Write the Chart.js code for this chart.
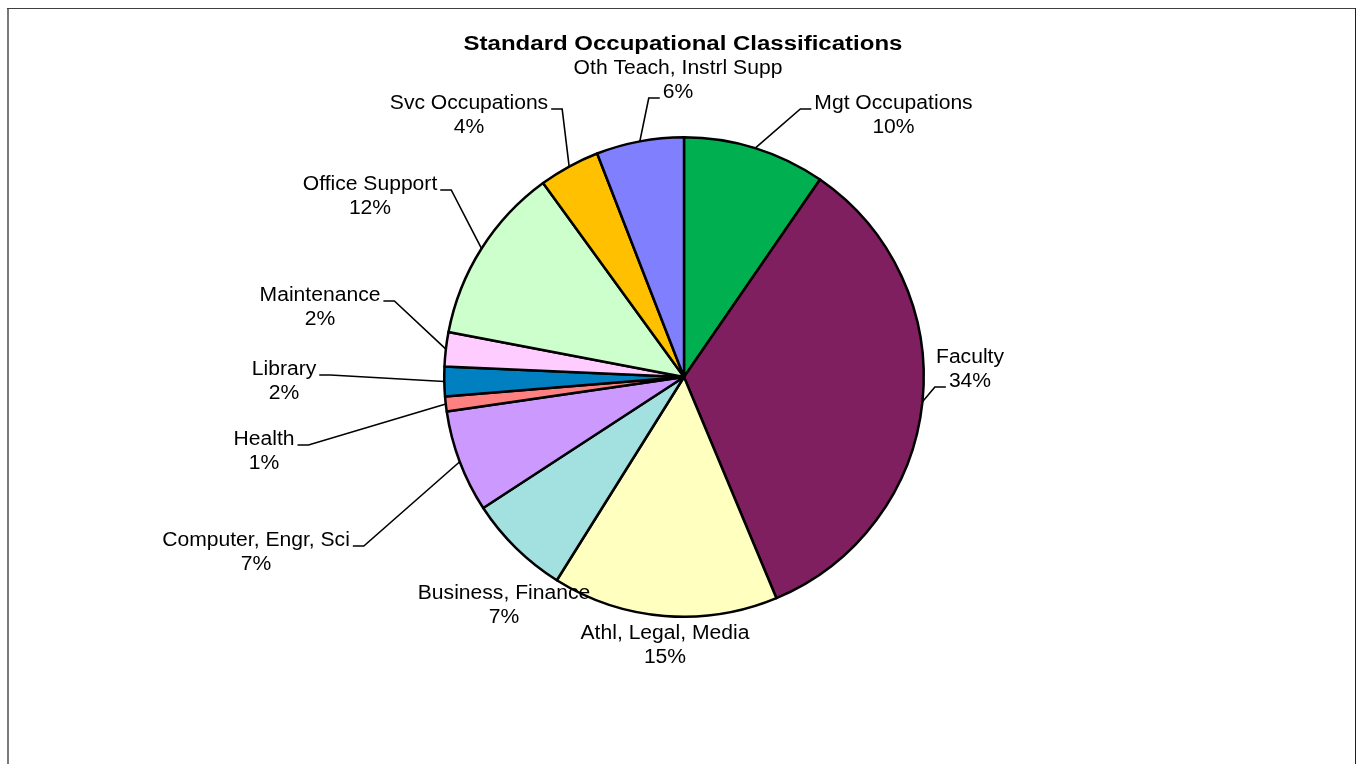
<!DOCTYPE html>
<html><head><meta charset="utf-8">
<script src="https://cdn.jsdelivr.net/npm/chart.js@4.4.1/dist/chart.umd.min.js"></script>
<style>html,body{margin:0;padding:0;background:#fff;overflow:hidden}canvas{display:block}</style>
</head><body>
<canvas id="c" width="1361" height="764"></canvas>
<script>
const categories = ['Mgt Occupations','Faculty','Athl, Legal, Media','Business, Finance','Computer, Engr, Sci','Health','Library','Maintenance','Office Support','Svc Occupations','Oth Teach, Instrl Supp'];
const shares = [9.6, 34.1, 15.2, 6.9, 6.9, 1.0, 2.0, 2.3, 12.0, 4.1, 5.9];
const sliceColors = ['#00B050','#7F1F5F','#FFFFC0','#A3E0E0','#CC99FF','#FF8080','#0080C0','#FFCCFF','#CCFFCC','#FFC000','#8080FF'];
const chartTitle = 'Standard Occupational Classifications';

// Label block centre offset from pie centre (in radii) and leader attachment (line index, side)
const labelPlacement = [
  {dx: 209.5/240, dy:-263/240, line:0, side:'L'},
  {dx: 286/240, dy:  -9/240, line:1, side:'L'},
  {dx: -19/240, dy: 267/240, line:null},
  {dx:-180/240, dy: 227/240, line:null},
  {dx:-428/240, dy: 174/240, line:0, side:'R'},
  {dx:-420/240, dy:  73/240, line:0, side:'R'},
  {dx:-400/240, dy:   3/240, line:0, side:'R'},
  {dx:-364/240, dy: -71/240, line:0, side:'R'},
  {dx:-314/240, dy:-182/240, line:0, side:'R'},
  {dx:-215/240, dy:-263/240, line:0, side:'R'},
  {dx:  -6/240, dy:-298/240, line:1, side:'L'}
];

const FONT = '"Liberation Sans", Arial, sans-serif';
const SX = 1.055;

function scaledText(ctx, txt, x, y, sx) {
  ctx.save();
  ctx.translate(x, y);
  ctx.scale(sx, 1);
  ctx.fillText(txt, 0, 0);
  ctx.restore();
}

const framePlugin = {
  id: 'frame',
  beforeDraw(chart) {
    const ctx = chart.ctx;
    ctx.save();
    ctx.fillStyle = '#ffffff';
    ctx.fillRect(0, 0, chart.width, chart.height);
    ctx.fillStyle = '#7a7a7a';
    ctx.fillRect(7, 8, 2, chart.height);
    ctx.fillStyle = '#404040';
    ctx.fillRect(7, 8, 1349, 1);
    ctx.fillStyle = '#202020';
    ctx.fillRect(1355, 8, 1, chart.height);
    ctx.restore();
  },
  afterDraw(chart) {
    const ctx = chart.ctx;
    ctx.save();
    ctx.fillStyle = '#000';
    ctx.textAlign = 'center';
    ctx.textBaseline = 'alphabetic';
    ctx.font = 'bold 20px ' + FONT;
    scaledText(ctx, chartTitle, 683, 50, 1.2);
    ctx.restore();
  }
};

const labelPlugin = {
  id: 'sliceLabels',
  afterDatasetsDraw(chart) {
    const ctx = chart.ctx;
    const meta = chart.getDatasetMeta(0);
    const total = shares.reduce((a, b) => a + b, 0);
    ctx.save();
    ctx.font = '20px ' + FONT;
    ctx.textAlign = 'center';
    ctx.textBaseline = 'alphabetic';
    meta.data.forEach((arc, i) => {
      const p = arc.getProps(['x','y','startAngle','endAngle','outerRadius'], true);
      const mid = (p.startAngle + p.endAngle) / 2;
      const ax = p.x + Math.cos(mid) * p.outerRadius;
      const ay = p.y + Math.sin(mid) * p.outerRadius;
      const pl = labelPlacement[i];
      const cx = p.x + pl.dx * 240;
      const cy = p.y + pl.dy * 240;
      const lines = [categories[i], Math.round(shares[i] / total * 100) + '%'];
      const base = [cy - 5, cy + 19];
      if (pl.line !== null) {
        const w = ctx.measureText(lines[pl.line]).width * SX;
        const by = base[pl.line];
        let x0, x1;
        if (pl.side === 'R') { x0 = cx + w / 2 + 3; x1 = x0 + 11; }
        else { x0 = cx - w / 2 - 3; x1 = x0 - 11; }
        ctx.beginPath();
        ctx.strokeStyle = '#000';
        ctx.lineWidth = 1.6;
        ctx.lineJoin = 'miter';
        ctx.moveTo(x0, by);
        ctx.lineTo(x1, by);
        ctx.lineTo(ax, ay);
        ctx.stroke();
      }
      ctx.fillStyle = '#000';
      scaledText(ctx, lines[0], cx, base[0], SX);
      scaledText(ctx, lines[1], cx, base[1], SX);
    });
    ctx.restore();
  }
};

new Chart(document.getElementById('c'), {
  type: 'pie',
  data: {
    labels: categories,
    datasets: [{
      data: shares,
      backgroundColor: sliceColors,
      borderColor: '#000000',
      borderWidth: 2.5,
      borderJoinStyle: 'round'
    }]
  },
  options: {
    responsive: false,
    animation: false,
    devicePixelRatio: 1,
    rotation: 0,
    layout: { padding: { top: 136, bottom: 146, left: 443, right: 436 } },
    plugins: {
      legend: { display: false },
      tooltip: { enabled: false },
      title: { display: false }
    },
    events: []
  },
  plugins: [framePlugin, labelPlugin]
});
</script>
</body></html>
